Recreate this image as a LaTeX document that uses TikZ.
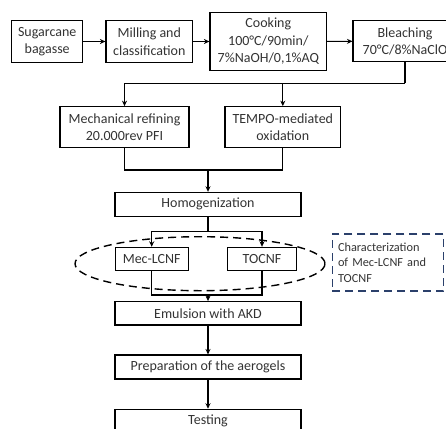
\documentclass[tikz,border=0pt]{standalone}
\usepackage{fontspec}
\setmainfont{Carlito}
\usetikzlibrary{arrows.meta,shapes.geometric}
\definecolor{navyframe}{rgb}{0.17, 0.25, 0.42}
\definecolor{textgray}{rgb}{0.2, 0.2, 0.2}

\begin{document}
\begin{tikzpicture}[x=1pt, y=1pt,
    stage/.style={draw, line width=1.1pt, align=center, inner sep=0pt,
        text=textgray, font=\fontsize{14}{17.5}\selectfont},
    flow/.style={line width=1.1pt, -{Stealth[length=5.5pt, width=5pt]}},
    link/.style={line width=1.1pt}]
        % picture frame
        \useasboundingbox (0,0) rectangle (446,-428);
        \clip (0,0) rectangle (446,-428);

        % first row
        \node[stage, minimum width=71pt, minimum height=41.6pt] (bagasse) at (47.2,-41.5) {Sugarcane\\bagasse};
        \node[stage, minimum width=86.7pt, minimum height=41.6pt] (milling) at (149.3,-41.5) {Milling and\\classification};
        \node[stage, minimum width=116.7pt, minimum height=58.4pt] (cooking) at (268.3,-41.5) {Cooking\\100°C/90min/\\7\%NaOH/0,1\%AQ};
        \node[stage, minimum width=104pt, minimum height=41pt] (bleaching) at (405,-41.2) {Bleaching\\70°C/8\%NaClO};

        \draw[flow] (bagasse) -- (milling);
        \draw[flow] (milling) -- (cooking);
        \draw[flow] (cooking) -- (bleaching);

        % two treatments
        \node[stage, minimum width=129pt, minimum height=41pt] (refining) at (124.5,-127.2) {Mechanical refining\\20.000rev PFI};
        \node[stage, minimum width=115.7pt, minimum height=41pt] (tempo) at (282.8,-127.2) {TEMPO-mediated\\oxidation};

        \coordinate (split1) at (405,-83.3);
        \draw[link] (bleaching) -- (split1);
        \draw[flow] (split1) -| (refining);
        \draw[flow] (split1) -| (tempo);

        \node[stage, minimum width=186pt, minimum height=23.7pt] (homog) at (208,-204.2) {Homogenization};
        \coordinate (join1) at (208,-170);
        \draw[link] (refining) |- (join1);
        \draw[link] (tempo) |- (join1);
        \draw[flow] (join1) -- (homog);

        % nanofibrils
        \node[stage, minimum width=73.3pt, minimum height=22.7pt] (meclcnf) at (151.7,-258.7) {Mec-LCNF};
        \node[stage, minimum width=68.3pt, minimum height=22.7pt] (tocnf) at (262,-258.7) {TOCNF};

        \coordinate (split2) at (208,-231.7);
        \draw[link] (homog) -- (split2);
        \draw[flow] (split2) -| (meclcnf);
        \draw[flow] (split2) -| (tocnf);

        \node[draw, ellipse, dash pattern=on 8pt off 5pt, line width=1.4pt,
            minimum width=250pt, minimum height=54pt, inner sep=0pt] (group) at (200,-263.7) {};

        \node[draw=navyframe, dash pattern=on 8pt off 5pt, line width=1.4pt,
            minimum width=111.5pt, minimum height=57pt, inner sep=0pt, text width=100pt,
            align=left, text=textgray, font=\fontsize{12.3}{15.3}\selectfont] (charact) at (388,-262.5)
            {Characterization\\of Mec-LCNF and\\TOCNF};

        % final steps
        \node[stage, minimum width=186pt, minimum height=23.3pt] (emulsion) at (208,-313.3) {Emulsion with AKD};
        \coordinate (join2) at (208,-295);
        \draw[link] (meclcnf) |- (join2);
        \draw[link] (tocnf) |- (join2);
        \draw[flow] (join2) -- (emulsion);

        \node[stage, minimum width=186pt, minimum height=24pt] (aerogels) at (208,-367) {Preparation of the aerogels};
        \node[stage, minimum width=186pt, minimum height=24pt] (testing) at (208,-421.3) {Testing};

        \draw[flow] (emulsion) -- (aerogels);
        \draw[flow] (aerogels) -- (testing);
    \end{tikzpicture}
\end{document}
